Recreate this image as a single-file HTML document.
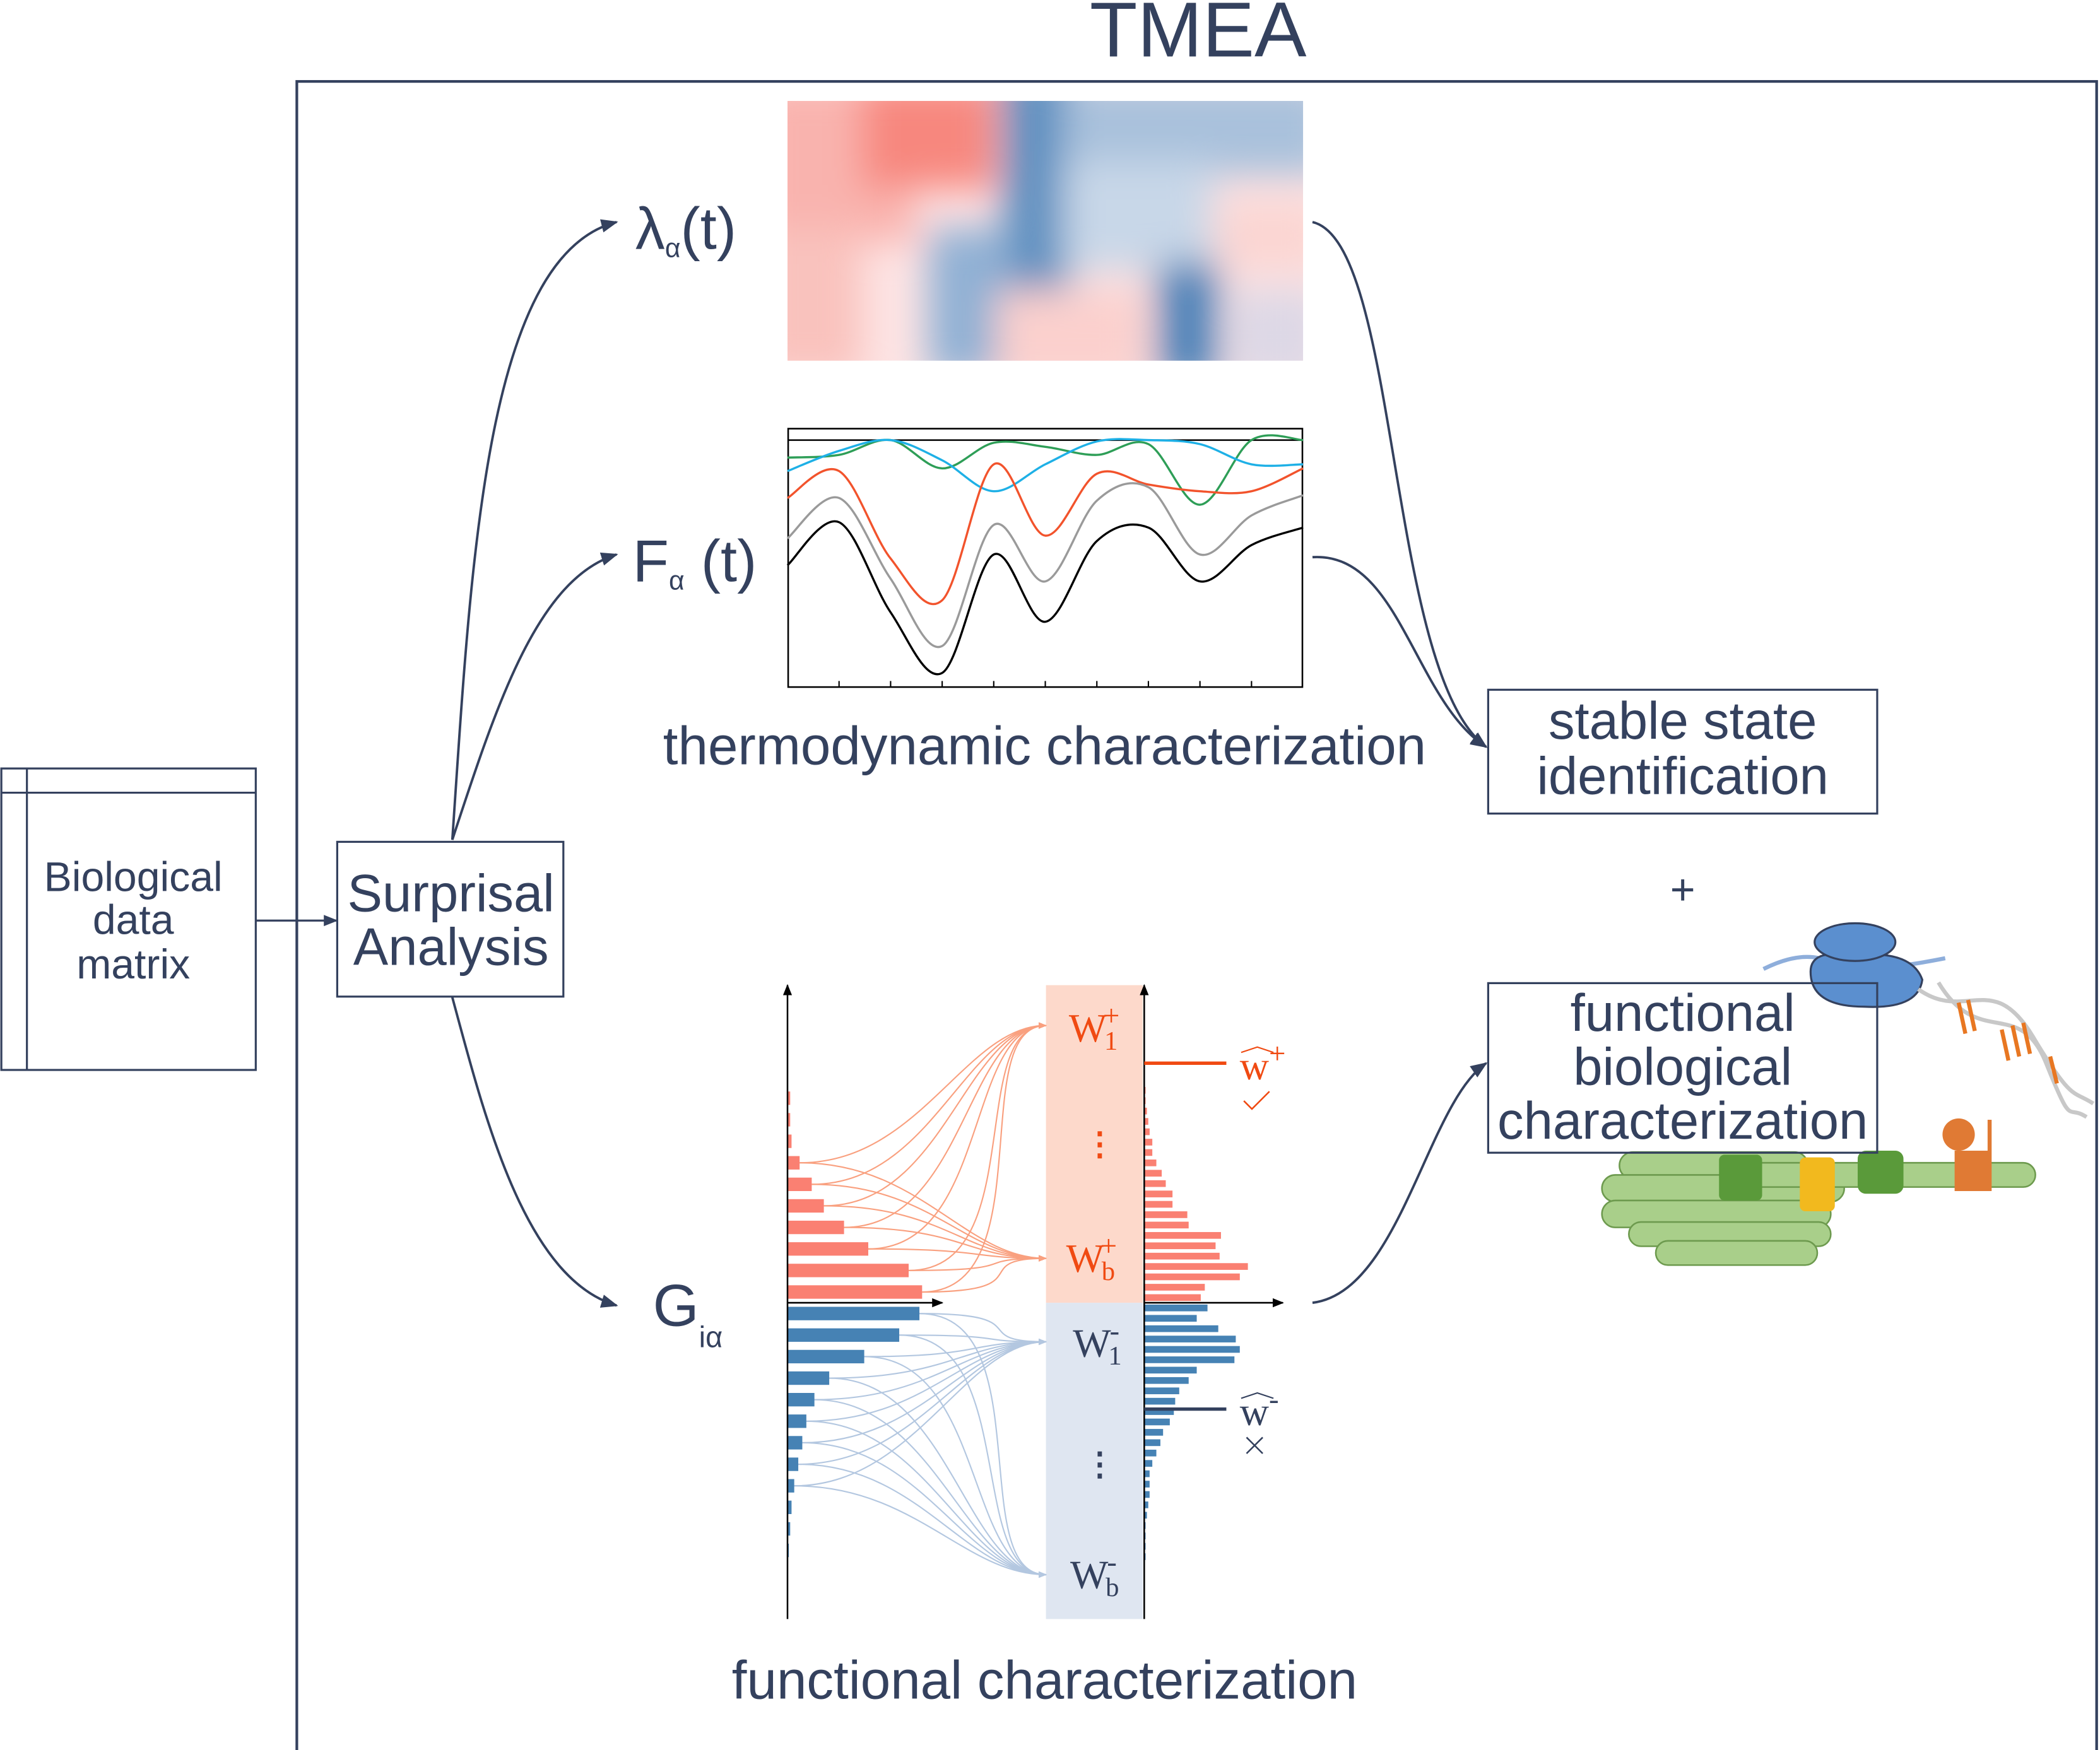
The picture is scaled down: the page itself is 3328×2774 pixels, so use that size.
<!DOCTYPE html>
<html><head><meta charset="utf-8"><style>
html,body{margin:0;padding:0;background:#fff}
svg{display:block}
text{font-family:"Liberation Sans",sans-serif;fill:#34415e}
.serif{font-family:"Liberation Serif",serif}
</style></head><body>
<svg id="fig" width="3328" height="2774" viewBox="0 0 1560 1300.3" xmlns="http://www.w3.org/2000/svg">
<defs>
<marker id="ah" viewBox="0 0 10 10" refX="9" refY="5" markerWidth="7" markerHeight="7" orient="auto"><path d="M0,1 L10,5 L0,9 z" fill="#34415e"/></marker>
<marker id="ahk" viewBox="0 0 10 10" refX="9" refY="5" markerWidth="7" markerHeight="7" orient="auto"><path d="M0,1 L10,5 L0,9 z" fill="#000"/></marker>
<marker id="ahr" viewBox="0 0 10 10" refX="9" refY="5" markerWidth="6" markerHeight="6" orient="auto"><path d="M0,1 L10,5 L0,9 z" fill="#f9a07f"/></marker>
<marker id="ahb" viewBox="0 0 10 10" refX="9" refY="5" markerWidth="6" markerHeight="6" orient="auto"><path d="M0,1 L10,5 L0,9 z" fill="#b3c7e0"/></marker>
<filter id="blur" x="-20%" y="-20%" width="140%" height="140%"><feGaussianBlur stdDeviation="14"/></filter>
<clipPath id="hmclip"><rect x="585" y="75" width="383" height="193"/></clipPath>
</defs>

<text x="890" y="42" font-size="58" text-anchor="middle">TMEA</text>
<rect x="220.5" y="60.5" width="1337" height="1244" fill="none" stroke="#34415e" stroke-width="2"/>

<g>
<rect x="1" y="571" width="189" height="224" fill="none" stroke="#34415e" stroke-width="1.5"/>
<line x1="20" y1="571" x2="20" y2="795" stroke="#34415e" stroke-width="1.5"/>
<line x1="1" y1="589" x2="190" y2="589" stroke="#34415e" stroke-width="1.5"/>
<text x="99" y="662" font-size="31" text-anchor="middle">Biological</text>
<text x="99" y="694" font-size="31" text-anchor="middle">data</text>
<text x="99" y="727" font-size="31" text-anchor="middle">matrix</text>
</g>
<line x1="190" y1="684" x2="250" y2="684" stroke="#34415e" stroke-width="1.5" marker-end="url(#ah)"/>

<g>
<rect x="250.5" y="625.5" width="168" height="115" fill="#fff" stroke="#34415e" stroke-width="1.5"/>
<text x="335" y="677" font-size="39" text-anchor="middle">Surprisal</text>
<text x="335" y="717" font-size="39" text-anchor="middle">Analysis</text>
</g>

<g fill="none" stroke="#34415e" stroke-width="1.8">
<path d="M336,624 C350,420 360,190 458,165" marker-end="url(#ah)"/>
<path d="M336,624 C370,520 400,430 458,412" marker-end="url(#ah)"/>
<path d="M336,741 C360,830 390,950 458,970" marker-end="url(#ah)"/>
<path d="M975,165 C1040,180 1030,500 1104,555" marker-end="url(#ah)"/>
<path d="M975,414 C1040,410 1050,520 1104,555" marker-end="url(#ah)"/>
<path d="M975,968 C1040,960 1060,820 1104,790" marker-end="url(#ah)"/>
</g>

<text x="472" y="185" font-size="44">λ<tspan font-size="20" dy="6">α</tspan><tspan dy="-6">(t)</tspan></text>
<text x="470" y="432" font-size="44">F<tspan font-size="20" dy="6">α</tspan><tspan dy="-6"> (t)</tspan></text>
<text x="485" y="985" font-size="44">G<tspan font-size="22" dy="16">iα</tspan></text>

<g clip-path="url(#hmclip)">
<rect x="585" y="75" width="383" height="193" fill="#fde4e4"/>
<g filter="url(#blur)">
<rect x="560" y="60" width="120" height="120" fill="#f9b3ae"/>
<rect x="640" y="60" width="100" height="80" fill="#f7877e"/>
<rect x="560" y="170" width="80" height="110" fill="#f9c2bd"/>
<rect x="745" y="50" width="50" height="230" fill="#5d8fc0"/>
<rect x="690" y="170" width="60" height="110" fill="#8fb0d4"/>
<rect x="790" y="60" width="200" height="70" fill="#a9c1dc"/>
<rect x="790" y="120" width="110" height="80" fill="#c8d7e8"/>
<rect x="860" y="195" width="45" height="90" fill="#4d82b8"/>
<rect x="905" y="150" width="80" height="50" fill="#fbd5d2"/>
<rect x="740" y="215" width="110" height="70" fill="#fbd0cd"/>
<rect x="915" y="215" width="70" height="70" fill="#ddd8e6"/>
</g>
</g>

<g>
<rect x="585.5" y="318.5" width="382" height="192" fill="#fff" stroke="#000" stroke-width="1.2"/>
<line x1="585" y1="327" x2="968" y2="327" stroke="#000" stroke-width="1.2"/>
<g id="lines"></g>
<g id="ticks"></g>
</g>
<text x="776" y="568" font-size="40" text-anchor="middle">thermodynamic characterization</text>

<g>
<rect x="1105.5" y="512.5" width="289" height="92" fill="#fff" stroke="#34415e" stroke-width="1.5"/>
<text x="1250" y="549" font-size="39" text-anchor="middle">stable state</text>
<text x="1250" y="590" font-size="39" text-anchor="middle">identification</text>
</g>
<text x="1250" y="672" font-size="32" text-anchor="middle">+</text>

<g>
<g fill="#a9cf8a" stroke="#6d9a4e" stroke-width="1.2">
<rect x="1203" y="856" width="140" height="20" rx="10"/>
<rect x="1190" y="873" width="180" height="20" rx="10"/>
<rect x="1190" y="892" width="170" height="20" rx="10"/>
<rect x="1210" y="908" width="150" height="18" rx="9"/>
<rect x="1230" y="922" width="120" height="18" rx="9"/>
<rect x="1300" y="864" width="212" height="18" rx="9"/>
</g>
<rect x="1277" y="858" width="32" height="34" rx="4" fill="#5a9a3a"/>
<rect x="1337" y="860" width="26" height="40" rx="4" fill="#f2b91e"/>
<rect x="1380" y="855" width="34" height="32" rx="6" fill="#5a9a3a"/>
<circle cx="1455" cy="843" r="12" fill="#e07a34"/>
<rect x="1452" y="855" width="26" height="30" fill="#e07a34"/>
<line x1="1478" y1="832" x2="1478" y2="885" stroke="#e07a34" stroke-width="3"/>
<path d="M1310,720 Q1340,705 1360,715 T1445,712" fill="none" stroke="#8eaedb" stroke-width="3"/>
<path d="M1345,722 Q1345,705 1375,710 Q1420,705 1428,728 Q1425,750 1385,748 Q1345,748 1345,722 z" fill="#5b8fcf" stroke="#34415e" stroke-width="1.5"/>
<ellipse cx="1378" cy="700" rx="30" ry="14" fill="#5b8fcf" stroke="#34415e" stroke-width="1.5"/>
<path d="M1425,735 C1460,760 1480,720 1510,770 S1540,810 1555,820" fill="none" stroke="#c8c8c8" stroke-width="3"/>
<path d="M1440,730 C1470,780 1500,740 1520,790 S1535,820 1550,830" fill="none" stroke="#c8c8c8" stroke-width="3"/>
<g stroke="#e87722" stroke-width="3"><line x1="1455" y1="745" x2="1460" y2="768"/><line x1="1462" y1="743" x2="1467" y2="766"/><line x1="1487" y1="765" x2="1492" y2="788"/><line x1="1495" y1="762" x2="1500" y2="785"/><line x1="1503" y1="760" x2="1508" y2="783"/><line x1="1523" y1="785" x2="1528" y2="805"/></g>
</g>
<g>
<rect x="1105.5" y="730.5" width="289" height="126" fill="none" stroke="#34415e" stroke-width="1.5"/>
<text x="1250" y="766" font-size="39" text-anchor="middle">functional</text>
<text x="1250" y="806" font-size="39" text-anchor="middle">biological</text>
<text x="1250" y="846" font-size="39" text-anchor="middle">characterization</text>
</g>

<rect x="777" y="732" width="72" height="236" fill="#fdd9cb"/>
<rect x="777" y="968" width="72" height="235" fill="#dfe6f1"/>
<g id="curves"></g>
<g id="leftbars"></g>
<g id="rightbars"></g>
<line x1="585" y1="1203" x2="585" y2="732" stroke="#000" stroke-width="1.2" marker-end="url(#ahk)"/>
<line x1="585" y1="968" x2="700" y2="968" stroke="#000" stroke-width="1.2" marker-end="url(#ahk)"/>
<line x1="850" y1="1203" x2="850" y2="732" stroke="#000" stroke-width="1.2" marker-end="url(#ahk)"/>
<line x1="850" y1="968" x2="953" y2="968" stroke="#000" stroke-width="1.2" marker-end="url(#ahk)"/>
<line x1="850" y1="790" x2="911" y2="790" stroke="#f04a12" stroke-width="2.5"/>
<line x1="850" y1="1047" x2="911" y2="1047" stroke="#34415e" stroke-width="2.5"/>
<text x="794" y="774" font-size="30" class="serif" style="fill:#f04a12">W<tspan font-size="20" dx="-2" dy="6">1</tspan><tspan font-size="22" dx="-11" dy="-18">+</tspan></text>
<text x="805" y="858" font-size="24" font-weight="bold" class="serif" style="fill:#f04a12">⋮</text>
<text x="792" y="945" font-size="30" class="serif" style="fill:#f04a12">W<tspan font-size="20" dx="-2" dy="6">b</tspan><tspan font-size="22" dx="-11" dy="-18">+</tspan></text>
<text x="797" y="1008" font-size="30" class="serif">W<tspan font-size="20" dx="-2" dy="6">1</tspan><tspan font-size="22" dx="-9" dy="-18">-</tspan></text>
<text x="805" y="1096" font-size="24" font-weight="bold" class="serif">⋮</text>
<text x="795" y="1180" font-size="30" class="serif">W<tspan font-size="20" dx="-2" dy="6">b</tspan><tspan font-size="22" dx="-9" dy="-18">-</tspan></text>
<text x="921" y="802" font-size="30" class="serif" style="fill:#f04a12">w<tspan font-size="22" dy="-12">+</tspan></text>
<path d="M922,782 L934,778 L946,782" fill="none" stroke="#f04a12" stroke-width="1"/>
<path d="M924,818 L930,824 L943,811" fill="none" stroke="#f04a12" stroke-width="1.2"/>
<text x="921" y="1059" font-size="30" class="serif">w<tspan font-size="22" dy="-12">-</tspan></text>
<path d="M922,1039 L934,1035 L946,1039" fill="none" stroke="#34415e" stroke-width="1"/>
<path d="M926,1068 L938,1080 M938,1068 L926,1080" stroke="#34415e" stroke-width="1.2"/>
<text x="776" y="1262" font-size="40" text-anchor="middle">functional characterization</text>
</svg>
<script>
// line chart data (x index 0..10, value = height above bottom)
const lineX = [0,1,2,3,4,5,6,7,8,9,10];
const blackVals = [90,122,55,10,98,48,108,118,78,105,118];
const grayVals = [110,140,80,30,120,78,138,148,98,127,142];
const redVals = [140,160,95,64,165,112,158,150,145,145,162];
const greenVals = [170,172,183,162,181,178,172,180,135,183,183];
const cyanVals = [160,175,183,168,145,165,182,183,180,165,165];
// histogram data
const leftPos = [100,90,60,42,27,18,9,3,2,2];
const leftNeg = [98,83,57,31,20,14,11,8,5,3,2,1];
const rightPos = [42,45,71,77,56,53,57,33,32,21,21,16,13,9,6,6,4,3,2,1,1];
const rightNeg = [47,39,55,68,71,67,39,33,26,23,22,19,14,12,9,6,4,4,4,3,2,1,1,1,1];

const NS='http://www.w3.org/2000/svg';
const xs = i => 585 + i*38.3;
const ys = v => 510 - v;
function smooth(vals){
  const p = vals.map((v,i)=>[xs(lineX[i]),ys(v)]);
  let d = 'M'+p[0][0]+','+p[0][1];
  for(let i=0;i<p.length-1;i++){
    const p0=p[i-1]||p[i],p1=p[i],p2=p[i+1],p3=p[i+2]||p2;
    d+=' C'+(p1[0]+(p2[0]-p0[0])/6)+','+(p1[1]+(p2[1]-p0[1])/6)+' '+(p2[0]-(p3[0]-p1[0])/6)+','+(p2[1]-(p3[1]-p1[1])/6)+' '+p2[0]+','+p2[1];
  }
  return d;
}
const lg=document.getElementById('lines');
[[greenVals,'#2e9e57','line-series-green'],[cyanVals,'#1eb0e6','line-series-cyan'],[redVals,'#f2532c','line-series-red'],[grayVals,'#9a9a9a','line-series-gray'],[blackVals,'#000','line-series-black']].forEach(s=>{
  const el=document.createElementNS(NS,'path');
  el.setAttribute('d',smooth(s[0]));el.setAttribute('fill','none');el.setAttribute('stroke',s[1]);el.setAttribute('stroke-width','1.6');
  
  
  lg.appendChild(el);
});
const tg=document.getElementById('ticks');
for(let i=1;i<10;i++){const t=document.createElementNS(NS,'line');t.setAttribute('x1',xs(i));t.setAttribute('x2',xs(i));t.setAttribute('y1',506);t.setAttribute('y2',510);t.setAttribute('stroke','#000');


tg.appendChild(t);}

function bars(g,x0,vals,y0,step,h,dir,color,scale,name){
  vals.forEach((v,i)=>{
    const r=document.createElementNS(NS,'rect');
    const y = dir<0 ? y0 - (i+1)*step + (step-h)/2 : y0 + i*step + (step-h)/2;
    r.setAttribute('x',x0);r.setAttribute('y',y);r.setAttribute('width',v*scale);r.setAttribute('height',h);r.setAttribute('fill',color);
    
    
    g.appendChild(r);
  });
}
const lb=document.getElementById('leftbars'), rb=document.getElementById('rightbars');
bars(lb,585,leftPos,968,16,10,-1,'#fa8072',1,'bar-positive');
bars(lb,585,leftNeg,968,16,10,1,'#4682b4',1,'bar-negative');
bars(rb,850,rightPos,968,7.7,5,-1,'#fa8072',1,'weight-bar-positive');
bars(rb,850,rightNeg,968,7.7,5,1,'#4682b4',1,'weight-bar-negative');

const cg=document.getElementById('curves');
function curve(x,y,tx,ty,col,mk){
  const p=document.createElementNS(NS,'path');
  p.setAttribute('d','M'+x+','+y+' C'+(x+90)+','+y+' '+(tx-60)+','+ty+' '+tx+','+ty);
  p.setAttribute('fill','none');p.setAttribute('stroke',col);p.setAttribute('stroke-width','1');p.setAttribute('marker-end','url(#'+mk+')');
  
  
  cg.appendChild(p);
}
leftPos.forEach((v,i)=>{const y=968-(i+0.5)*16;if(v>5){curve(585+v,y,777,762,'#f9a07f','ahr');curve(585+v,y,777,935,'#f9a07f','ahr');}});
leftNeg.forEach((v,i)=>{const y=968+(i+0.5)*16;if(v>4){curve(585+v,y,777,997,'#b3c7e0','ahb');curve(585+v,y,777,1170,'#b3c7e0','ahb');}});
</script>
</body></html>
